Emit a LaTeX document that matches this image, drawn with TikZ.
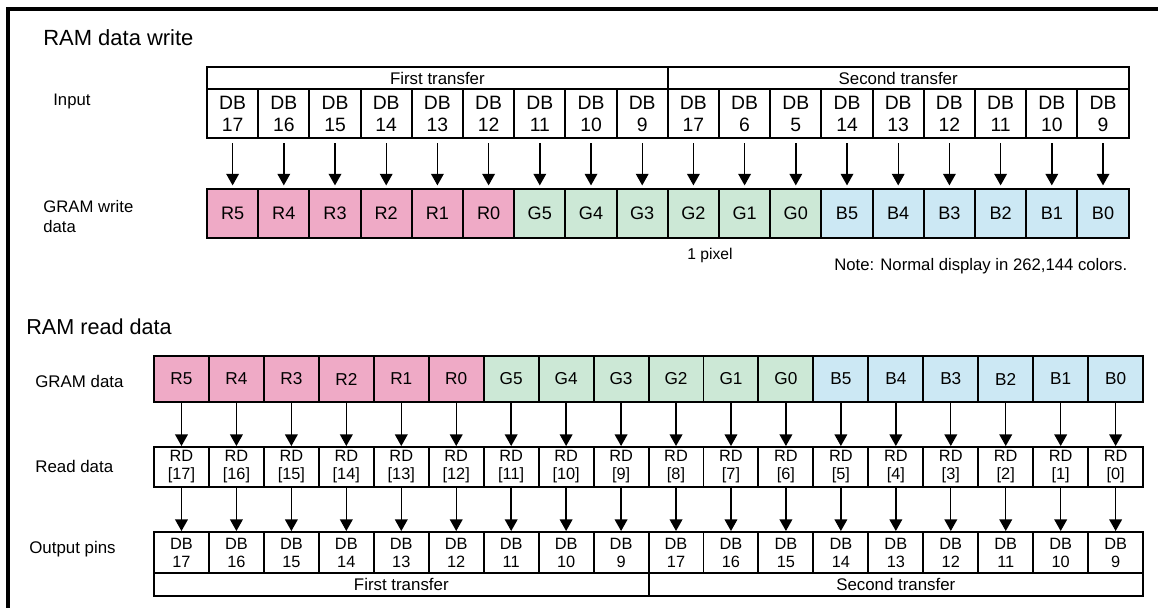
\documentclass[tikz,border=0pt]{standalone}
\usepackage{fontspec}
\setmainfont{Liberation Sans}
\usetikzlibrary{arrows.meta,positioning}
\definecolor{rcell}{HTML}{EFAAC6}
\definecolor{gcell}{HTML}{CCE8D6}
\definecolor{bcell}{HTML}{CCE8F4}

\begin{document}
\begin{tikzpicture}[x=0.02cm,y=-0.02cm,
    cellw/.style={draw,line width=1.1pt,inner sep=0pt,align=center,
      minimum width=1.024cm,minimum height=0.98cm,font=\fontsize{11}{12.5}\selectfont},
    cellr/.style={draw,line width=1.1pt,inner sep=0pt,align=center,
      minimum width=1.099cm,font=\fontsize{9.3}{10.2}\selectfont},
    bar/.style={draw,line width=1.1pt,inner sep=0pt,font=\fontsize{9.6}{10}\selectfont},
    lbl/.style={anchor=base west,inner sep=0pt,font=\fontsize{9.5}{11.4}\selectfont},
    ttl/.style={anchor=base west,inner sep=0pt,font=\fontsize{12.5}{14}\selectfont},
    arr/.style={line width=0.8pt,-{Triangle[width=7.2pt,length=6.6pt]}}]
    \useasboundingbox (0,0) rectangle (1158,608);

    % frame
    \draw[line width=1.8pt] (1158,9) -- (8,9) -- (8,608);

    % write side
    \node[ttl] (wtitle) at (43,46) {RAM data write};
    \node[lbl] (winput) at (53,106) {Input};
    \node[lbl,anchor=west,align=left] (wgram) at (43,217) {GRAM write\\data};

    \node[bar,minimum width=9.216cm,minimum height=0.44cm] (wfirst) at (437.4,78) {First transfer};
    \node[bar,minimum width=9.216cm,minimum height=0.44cm] (wsecond) at (898.2,78) {Second transfer};

    \foreach \lab [count=\i] in {17,16,15,14,13,12,11,10,9,17,6,5,14,13,12,11,10,9}
      \node[cellw] (in\i) at ({207+(\i-0.5)*51.2},113.5) {DB\\\lab};

    \foreach \lab/\col [count=\i] in {R5/rcell,R4/rcell,R3/rcell,R2/rcell,R1/rcell,R0/rcell,
        G5/gcell,G4/gcell,G3/gcell,G2/gcell,G1/gcell,G0/gcell,
        B5/bcell,B4/bcell,B3/bcell,B2/bcell,B1/bcell,B0/bcell}
      \node[cellw,fill=\col,font=\fontsize{10.3}{12}\selectfont] (gw\i) at ({207+(\i-0.5)*51.2},213.5) {\lab};

    \foreach \i in {1,...,18}
      \draw[arr,shorten <=2.3pt,shorten >=1.5pt] (in\i.south) -- (gw\i.north);

    \node[lbl,font=\fontsize{8.9}{10}\selectfont] (pix) at (687,259) {1 pixel};
    \node[lbl,font=\fontsize{9.5}{10}\selectfont] (note) at (834,270) {Note: Normal display in 262,144 colors.};

    % read side
    \node[ttl,font=\fontsize{12.3}{14}\selectfont] (rtitle) at (26,334) {RAM read data};
    \node[lbl,font=\fontsize{9.6}{10}\selectfont] (rgram) at (35,387) {GRAM data};
    \node[lbl,font=\fontsize{9.6}{10}\selectfont] (rread) at (35,472) {Read data};
    \node[lbl,font=\fontsize{9.6}{10}\selectfont] (rout) at (29,553) {Output pins};

    \foreach \lab/\col [count=\i] in {R5/rcell,R4/rcell,R3/rcell,R2/rcell,R1/rcell,R0/rcell,
        G5/gcell,G4/gcell,G3/gcell,G2/gcell,G1/gcell,G0/gcell,
        B5/bcell,B4/bcell,B3/bcell,B2/bcell,B1/bcell,B0/bcell}
      \node[cellr,fill=\col,minimum height=0.92cm,font=\fontsize{9.8}{11}\selectfont] (gr\i) at ({154+(\i-0.5)*54.95},379) {\lab};

    \foreach \i in {1,...,18} {
      \pgfmathtruncatemacro{\bit}{18-\i}
      \node[cellr,minimum height=0.8cm] (rd\i) at ({154+(\i-0.5)*54.95},467) {RD\\{[}\bit{]}};
    }

    \foreach \lab [count=\i] in {17,16,15,14,13,12,11,10,9,17,16,15,14,13,12,11,10,9}
      \node[cellr,minimum height=0.82cm] (op\i) at ({154+(\i-0.5)*54.95},552.5) {DB\\\lab};

    \node[bar,minimum width=9.891cm,minimum height=0.46cm] (rfirst) at (401.3,584.5) {First transfer};
    \node[bar,minimum width=9.891cm,minimum height=0.46cm] (rsecond) at (895.8,584.5) {Second transfer};

    \foreach \i in {1,...,18} {
      \draw[arr] (gr\i.south) -- (rd\i.north);
      \draw[arr] (rd\i.south) -- (op\i.north);
    }
\end{tikzpicture}
\end{document}
